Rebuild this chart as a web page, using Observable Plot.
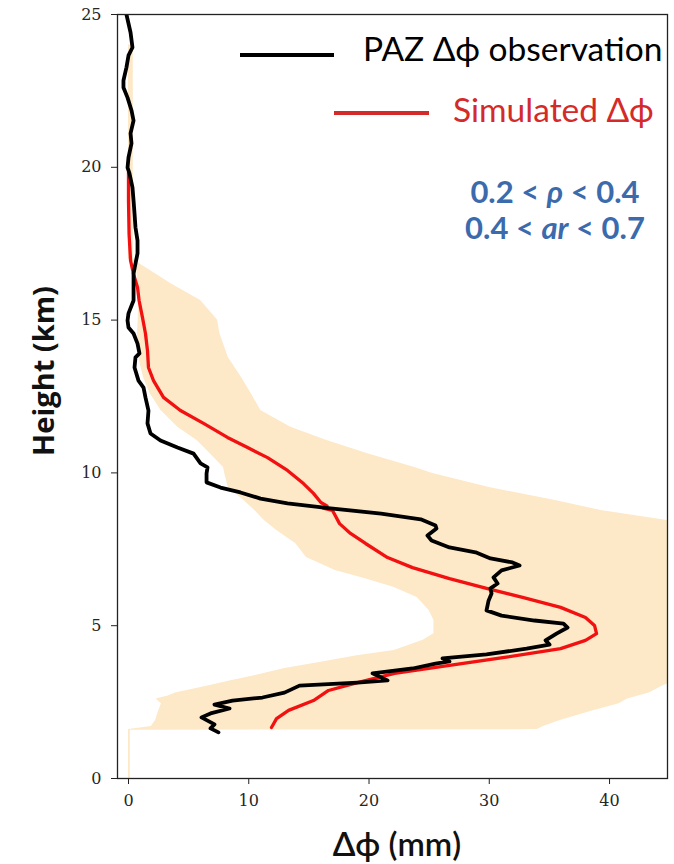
<!DOCTYPE html>
<html>
<head>
<meta charset="utf-8">
<script src="https://cdn.jsdelivr.net/npm/d3@7"></script>
<script src="https://cdn.jsdelivr.net/npm/@observablehq/plot@0.6"></script>
<style>
  html, body { margin: 0; padding: 0; background: #fff; }
  #chart { width: 674px; height: 864px; }
</style>
</head>
<body>
<div id="chart"></div>
<script>
// PAZ Δϕ observation: height (km) and Δϕ (mm)
const obsY = [25.00,24.41,23.92,23.66,23.27,22.84,22.61,22.28,21.86,21.53,21.11,20.78,20.32,19.99,19.80,19.34,18.91,18.49,18.03,17.60,17.18,16.85,16.52,16.20,
  15.64,15.22,14.99,14.76,14.56,14.23,13.91,13.78,13.45,13.02,12.79,12.47,12.04,11.62,11.29,11.06,10.83,10.63,10.31,10.18,9.98,9.69,9.52,9.36,9.16,9.00,
  8.84,8.67,8.48,8.28,8.18,7.95,7.79,7.56,7.40,7.20,7.07,6.97,6.81,6.58,6.38,6.22,6.05,5.82,5.50,5.33,5.17,5.07,4.94,4.74,4.52,4.38,4.25,4.06,3.93,3.83,3.76,
  3.60,3.44,3.21,3.14,3.04,2.81,2.65,2.55,2.42,2.29,2.13,2.00,1.77,1.64,1.51];
const obsX = [-0.17,0.17,0.33,0.0,-0.17,-0.42,-0.42,-0.08,0.25,0.42,0.17,0.25,0.0,-0.08,0.08,0.33,0.42,0.5,0.58,0.75,0.75,0.58,0.42,0.42,
  0.42,0.0,-0.08,0.0,0.42,0.75,0.91,0.58,0.5,0.83,1.25,1.41,1.66,1.58,1.83,2.66,4.07,5.41,5.99,6.57,6.49,6.49,7.65,9.31,10.98,13.22,
  16.8,21.0,24.3,25.53,25.61,24.86,25.20,26.69,28.86,30.10,31.93,32.52,31.02,30.35,30.69,30.10,30.19,29.94,29.77,31.02,33.76,36.17,36.51,35.59,34.68,35.01,33.10,29.77,26.11,26.69,25.53,
  23.62,20.29,21.54,19.04,14.22,12.97,11.14,8.65,7.15,8.40,6.82,6.07,7.15,6.82,7.48];

// Simulated Δϕ
const simY = [19.83,18.9,17.8,16.95,16.5,16.07,15.64,15.09,14.56,14.0,13.45,13.02,12.47,12.04,11.62,11.16,10.83,10.5,10.08,9.65,9.33,9.03,8.92,8.85,8.77,8.67,
  8.34,8.02,7.69,7.23,6.90,6.54,6.22,5.92,5.60,5.27,5.01,4.74,4.52,4.25,3.96,3.70,3.44,3.14,2.88,2.55,2.23,1.96,1.67];
const simX = [0,0,0.05,0.17,0.42,0.75,0.88,1.16,1.41,1.58,1.66,2.08,2.91,4.32,6.24,8.23,9.9,11.56,13.22,14.55,15.38,16.0,16.5,16.2,16.96,17.1,
  17.55,18.46,19.71,21.54,23.62,26.69,29.77,32.85,35.93,38.0,38.75,38.92,38.0,35.93,31.27,26.69,22.12,19.04,16.63,15.38,13.31,12.31,11.89];

// Shaded simulation range
const bandY     = [0,1.58,1.6,1.7,1.9,2.2,2.45,2.6,2.7,2.8,3.04,3.2,3.31,3.6,3.8,4.02,4.19,4.52,4.74,5.17,5.5,5.92,6.25,6.54,6.81,7.23,7.69,8.12,8.44,8.77,9.1,9.52,9.98,10.18,10.63,11.06,11.49,12.04,12.6,13.12,13.78,14.56,15.0,15.64,16.2,16.85,17.0,24.0];
const bandLeft  = [0,0,0,1.9,2.25,2.5,2.74,2.3,3.3,3.9,6.8,8.5,9.9,13.0,16.0,19.0,22.1,24.5,25.4,25.4,25.0,24.0,22.1,19.7,17.2,14.8,13.9,12.3,11.3,10.5,9.6,8.3,8.0,7.9,6.8,5.7,4.1,2.7,1.8,1.25,0.85,0.75,0.8,0.85,0.8,0.6,0,0];
const bandRight = [0.15,0.15,34,34.5,35.9,38.5,40.8,41.5,42.4,43.3,44.5,45.5,46,47,48,48,48,48,48,48,48,48,48,48,48,48,47.5,46.5,44.8,39.3,35.5,30.0,25.3,23.8,19.9,16.5,13.5,11.0,10.2,9.4,8.3,7.6,7.4,6.0,3.5,0.9,0.4,0.4];

const xTicks = [0, 10, 20, 30, 40];
const yTicks = [0, 5, 10, 15, 20, 25];

const obs = obsY.map((y, i) => ({y, x: obsX[i]}));
const sim = simY.map((y, i) => ({y, x: simX[i]}));
const band = bandY.map((y, i) => ({y, x1: bandLeft[i], x2: bandRight[i]}));

const W = 674, H = 864, ML = 117, MR = 7, MT = 14, MB = 86;

const chart = Plot.plot({
  width: W, height: H,
  marginLeft: ML, marginRight: MR, marginTop: MT, marginBottom: MB,
  style: {fontFamily: "DejaVu Serif", fontSize: "16px", color: "#262626", background: "#fff"},
  x: {domain: [-0.915, 44.82], label: null},
  y: {domain: [0, 25], label: null},
  marks: [
    Plot.areaX(band, {y: "y", x1: "x1", x2: "x2", fill: "#fde9c8", clip: true}),
    Plot.line(sim, {x: "x", y: "y", stroke: "#f21010", strokeWidth: 3.3, clip: true}),
    Plot.line(obs, {x: "x", y: "y", stroke: "#000", strokeWidth: 3.8, clip: true}),
    Plot.frame({stroke: "#222", strokeWidth: 1.3}),
    Plot.axisX({ticks: xTicks, tickSize: 6, tickPadding: 10, label: null, stroke: "#222"}),
    Plot.axisY({ticks: yTicks, tickSize: 6, tickPadding: 10, label: null, stroke: "#222"})
  ]
});
document.getElementById("chart").appendChild(chart);

// Axis titles, legend and annotation
const svg = d3.select(chart);
svg.append("text")
  .attr("transform", "translate(54,371) rotate(-90)")
  .attr("text-anchor", "middle")
  .style("font-family", "'Open Sans', Lato, sans-serif")
  .style("font-weight", "700")
  .style("font-size", "29px")
  .attr("fill", "#111")
  .text("Height (km)");
svg.append("text")
  .attr("x", 397).attr("y", 856)
  .attr("text-anchor", "middle")
  .style("font-family", "Lato, 'Open Sans', sans-serif")
  .style("font-weight", "600")
  .style("font-size", "33px")
  .attr("fill", "#111")
  .text("Δϕ (mm)");

const leg = svg.append("g").style("font-family", "Lato, 'Open Sans', sans-serif").attr("text-anchor", "start");
leg.append("line").attr("x1", 240).attr("x2", 334).attr("y1", 55).attr("y2", 55)
  .attr("stroke", "#000").attr("stroke-width", 4);
leg.append("text").attr("x", 363).attr("y", 61).style("font-size", "33.5px").attr("fill", "#000")
  .text("PAZ Δϕ observation");
leg.append("line").attr("x1", 334).attr("x2", 429).attr("y1", 113).attr("y2", 113)
  .attr("stroke", "#d42a2a").attr("stroke-width", 4);
leg.append("text").attr("x", 453).attr("y", 122).style("font-size", "33.5px").attr("fill", "#d42a2a")
  .text("Simulated Δϕ");

const ann = svg.append("g").style("font-family", "Lato, 'Open Sans', sans-serif")
  .style("font-weight", "700").style("font-size", "31px").attr("fill", "#3b6aad").attr("text-anchor", "middle");
const t1 = ann.append("text").attr("x", 555).attr("y", 203);
t1.append("tspan").text("0.2 < ");
t1.append("tspan").style("font-style", "italic").text("ρ");
t1.append("tspan").text(" < 0.4");
const t2 = ann.append("text").attr("x", 555).attr("y", 239);
t2.append("tspan").text("0.4 < ");
t2.append("tspan").style("font-style", "italic").text("ar");
t2.append("tspan").text(" < 0.7");
</script>
</body>
</html>
